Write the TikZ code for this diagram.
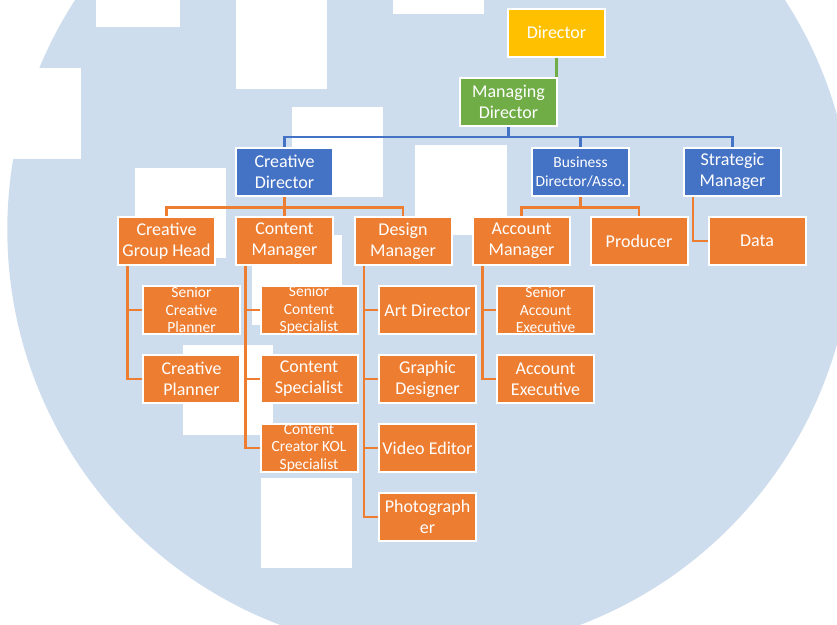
\documentclass[tikz,border=0pt]{standalone}
\usepackage{fontspec}
\setmainfont{Carlito}
\usepackage{xcolor}
\definecolor{orgorange}{HTML}{ED7D31}
\definecolor{orgblue}{HTML}{4472C4}
\definecolor{orggreen}{HTML}{70AD47}
\definecolor{orggold}{HTML}{FFC000}
\definecolor{backblue}{HTML}{CEDDEE}
\pgfdeclarelayer{backdrop}
\pgfdeclarelayer{links}
\pgfsetlayers{backdrop,links,main}

\begin{document}
\begin{tikzpicture}[x=1pt,y=-1pt,
  box/.style={draw=white, line width=2pt, minimum width=97pt, minimum height=48pt,
    inner sep=0pt, align=center, text=white, font=\fontsize{18}{21}\selectfont},
  obox/.style={box, fill=orgorange},
  bbox/.style={box, fill=orgblue},
  small/.style={font=\fontsize{15.5}{17.5}\selectfont},
  olink/.style={draw=orgorange, line width=2.2pt},
  blink/.style={draw=orgblue, line width=2.2pt},
  glink/.style={draw=orggreen, line width=2.2pt}]
\useasboundingbox (0,0) rectangle (837,624);

\begin{pgfonlayer}{backdrop}
\clip (0,0) rectangle (837,624);
\fill[backblue] (430,229.6) circle (422.7);
\fill[white] (96,0) rectangle (180,27);
\fill[white] (236,0) rectangle (327,89);
\fill[white] (393,0) rectangle (484,14);
\fill[white] (0,68) rectangle (81,159);
\fill[white] (292,107) rectangle (383,197);
\fill[white] (415,145) rectangle (507,235);
\fill[white] (135,168) rectangle (226,258);
\fill[white] (252,235) rectangle (342,325);
\fill[white] (183,345) rectangle (273,435);
\fill[white] (261,478) rectangle (352,568);
\end{pgfonlayer}

% top levels
\node[box, fill=orggold] (dir) at (556.5,32.5) {Director};
\node[box, fill=orggreen] (md) at (508.5,102) {Managing\\Director};
\node[bbox] (cd) at (284.5,171.5) {Creative\\Director};
\node[bbox, font=\fontsize{15.5}{19}\selectfont] (bd) at (580.5,171.5) {Business\\Director/Asso.};
\node[bbox] (sm) at (732.5,171.5) {Strategic\\Manager};

% managers
\node[obox] (cgh) at (166.5,241) {Creative\\Group Head};
\node[obox] (cm) at (284.5,241) {Content\\Manager};
\node[obox] (dm) at (403,241) {Design\\Manager};
\node[obox] (am) at (521.5,241) {Account\\Manager};
\node[obox] (prod) at (639,241) {Producer};
\node[obox] (data) at (757,241) {Data};

% staff
\node[obox, small] (scp) at (191.5,310) {Senior\\Creative\\Planner};
\node[obox] (cp) at (191.5,379) {Creative\\Planner};
\node[obox, small] (scs) at (309,310) {Senior\\Content\\Specialist};
\node[obox] (cs) at (309,379) {Content\\Specialist};
\node[obox, small] (kol) at (309,448) {Content\\Creator KOL\\Specialist};
\node[obox] (art) at (427.5,310) {Art Director};
\node[obox] (gd) at (427.5,379) {Graphic\\Designer};
\node[obox] (ve) at (427.5,448) {Video Editor};
\node[obox] (photo) at (427.5,517) {Photograph\\er};
\node[obox, small] (sae) at (545.5,310) {Senior\\Account\\Executive};
\node[obox] (ae) at (545.5,379) {Account\\Executive};

\begin{pgfonlayer}{links}
\draw[glink] (dir.south) -- (dir.south |- md.north);
\draw[blink] (md.south) -- ++(0,10) coordinate (mdbus);
\draw[blink] (mdbus) -| (cd.north);
\draw[blink] (mdbus) -| (bd.north);
\draw[blink] (mdbus) -| (sm.north);
\draw[olink] (cd.south) -- ++(0,11) coordinate (cdbus);
\draw[olink] (cdbus) -| (cgh.north);
\draw[olink] (cdbus) -| (cm.north);
\draw[olink] (cdbus) -| (dm.north);
\draw[olink] (bd.south) -- ++(0,11) coordinate (bdbus);
\draw[olink] (bdbus) -| (am.north);
\draw[olink] (bdbus) -| (prod.north);
\draw[olink] (sm.south west) ++(10,0) |- (data.west);
\foreach \boss/\staff in {cgh/scp, cgh/cp, cm/scs, cm/cs, cm/kol,
    dm/art, dm/gd, dm/ve, dm/photo, am/sae, am/ae}
  \draw[olink] (\boss.south west) ++(10.5,0) |- (\staff.west);
\end{pgfonlayer}
\end{tikzpicture}
\end{document}
